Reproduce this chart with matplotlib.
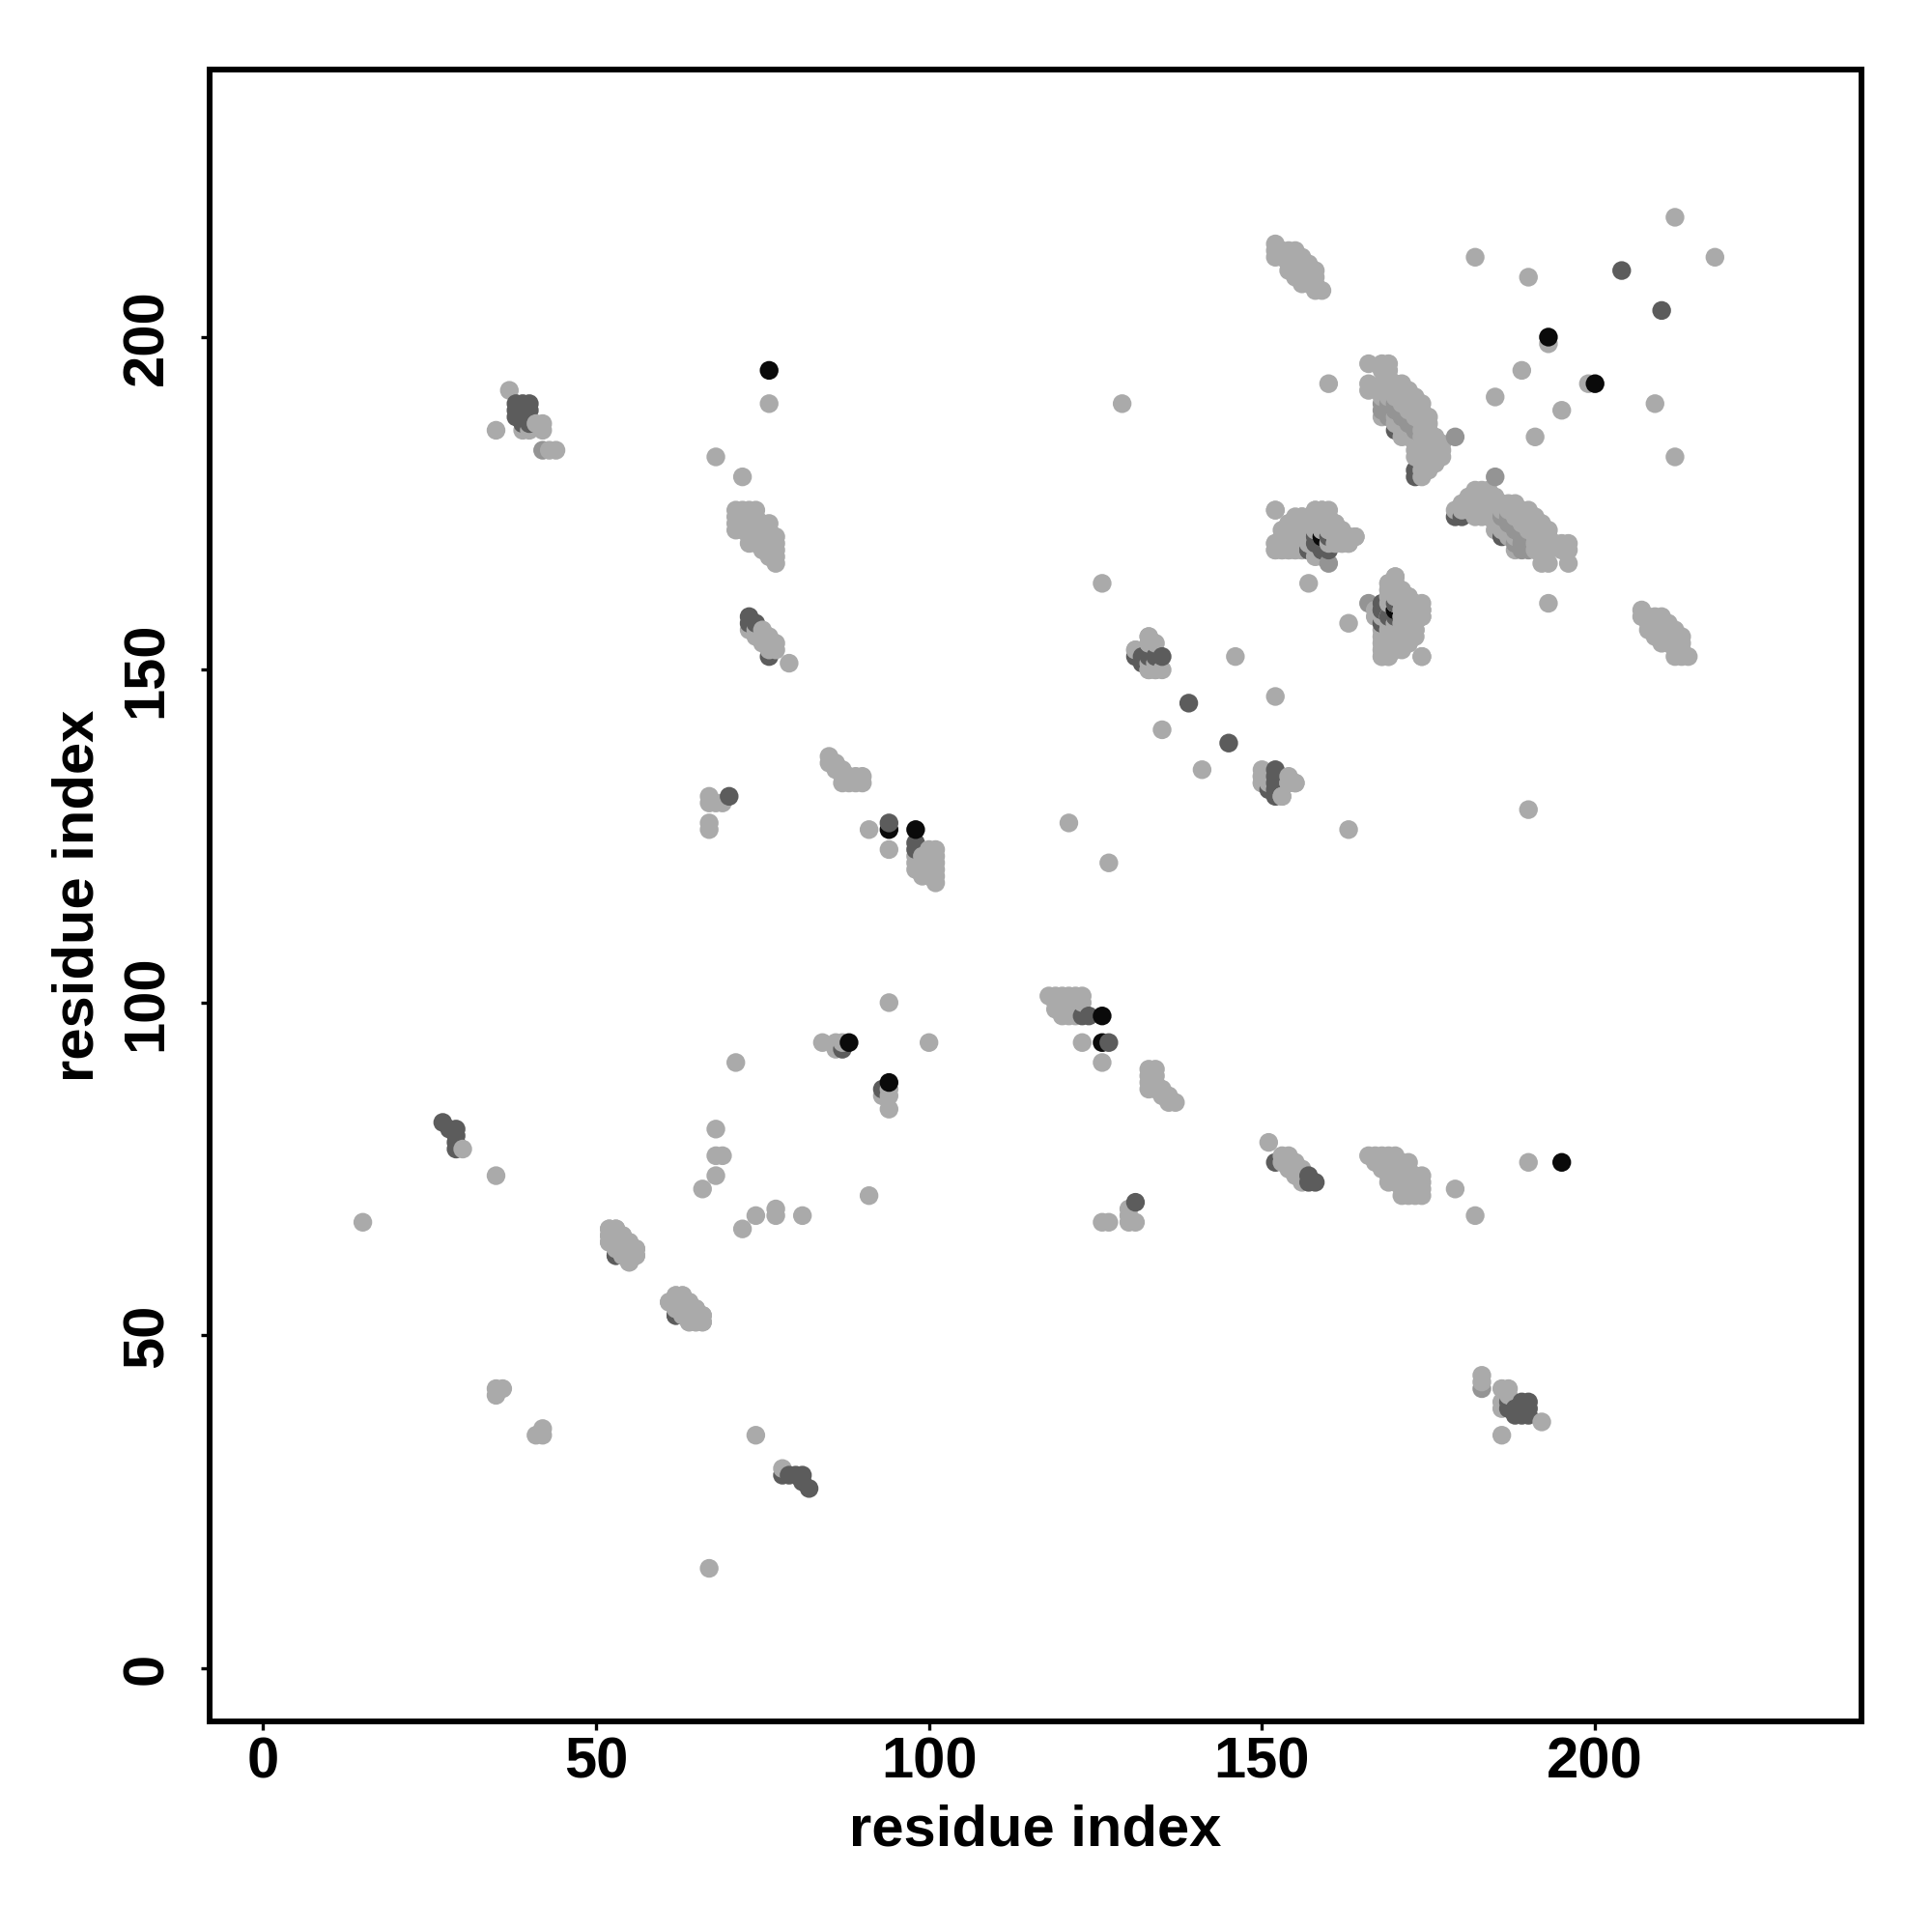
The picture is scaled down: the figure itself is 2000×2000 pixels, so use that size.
import matplotlib
matplotlib.use("Agg")
import matplotlib.pyplot as plt
import numpy as np

# contacts (i<j); mirrored in code since the map is symmetric
light = [(15,67),(30,78),(35,74),(35,186),(35,41),(35,42),(36,42),(37,192),(39,186),(40,186),(41,187),(42,187),(42,186),(43,183),(44,183),
 (52,66),(53,66),(52,65),(53,65),(54,65),(52,64),(53,64),(54,64),(55,64),(53,63),(54,63),(55,63),(56,63),(54,62),(55,62),(56,62),(55,61),
 (61,55),(62,55),(62,56),(63,56),(63,55),(64,55),(63,54),(64,54),(65,54),(64,53),(65,53),(66,53),(64,52),(65,52),(66,52),(62,54),
 (66,72),(68,74),(68,77),(69,77),(68,81),(67,126),(67,127),(67,130),(67,131),(68,130),(69,130),(68,182),(72,179),
 (71,174),(72,174),(73,174),(74,174),(71,173),(72,173),(73,173),(74,173),(71,172),(72,172),(73,172),(71,171),(72,171),(73,171),(74,171),(75,171),(76,172),(75,172),(76,171),(77,170),(76,170),(75,170),(74,170),(73,170),(73,169),(74,169),(75,169),(76,169),(77,169),(75,168),(76,168),(77,168),(77,167),(76,167),(77,166),
 (73,156),(74,156),(75,156),(74,155),(75,155),(76,155),(75,154),(76,154),(77,154),(76,153),(77,153),(79,151),(76,190),
 (85,137),(85,136),(86,136),(86,135),(87,135),(87,134),(88,134),(88,133),(87,133),(89,134),(89,133),(90,134),(90,133),
 (91,126),(71,91),(94,123),(84,94),(86,93),(86,94),(87,94),(94,100),
 (101,118),(101,119),(101,120),(101,121),(101,122),(101,123),(100,119),(100,120),(100,121),(100,122),(100,123),(99,119),(99,120),(99,121),(99,122),(98,120),(98,121),(98,122),
 (121,127),(129,190),(126,163),(131,153),(133,155),(133,154),(133,151),(134,151),(134,150),(135,150),(135,141),(146,152),(133,150),(134,154),(153,131),(154,133),(155,133),(150,133),(150,134),
 (160,193),(182,212),(190,209),(212,218),(189,195),(185,191),(193,199),
 (152,174),(152,169),(152,168),(153,168),(154,168),(155,168),(153,169),(154,169),(155,169),(156,169),(157,169),(158,169),(154,170),(155,170),(156,170),(157,170),(160,170),(161,170),(154,171),(155,171),(156,171),(157,171),(158,171),(159,171),(160,171),(161,171),(154,172),(155,172),(156,172),(157,172),(158,172),(159,172),(160,172),(161,172),(155,173),(156,173),(157,173),(158,173),(159,173),(160,173),(158,174),(159,174),(160,174),(156,168),(160,169),(161,169),(162,169),(163,169),(164,170),(163,170),(157,163),(159,167),(158,167),
 (168,158),(169,158),(170,160),(169,163),(170,164),(170,163),(169,162),(170,162),(171,162),(172,161),(171,161),(169,161),(170,161),
 (168,152),(169,152),(174,152),(168,153),(169,153),(170,153),(171,153),(168,154),(169,154),(170,154),(171,154),(172,154),(168,155),(169,155),(170,155),(171,155),(172,155),(168,156),(169,156),(170,156),(171,156),(172,156),(173,156),(169,157),(170,157),(171,157),(172,157),(173,157),(173,158),(174,158),(172,158),(171,158),(173,159),(174,159),(171,159),(172,159),(172,160),(171,160),
 (152,214),(152,213),(152,212),(153,213),(153,212),(154,213),(154,212),(154,211),(154,210),(155,213),(155,212),(155,211),(155,210),(155,209),(156,212),(156,211),(156,210),(156,209),(156,208),(157,211),(157,210),(157,209),(157,208),(158,210),(158,209),(158,208),(158,207),(159,207),
 (166,196),(168,196),(169,196),(168,195),(169,195),(169,194),(166,193),(166,192),(168,193),(168,192),(169,193),(169,192),(170,193),(170,192),(171,193),(171,192),(168,191),(169,191),(170,191),(171,191),(172,192),(172,191),(172,190),(171,190),(172,189),(173,191),(173,190),(173,189),(173,188),(174,190),(174,189),(174,188),(174,187),(175,188),(175,187),(175,186),(174,186),(175,185),(174,185),(175,184),(174,184),(175,183),(174,183),(176,185),(176,184),(176,183),(176,182),(175,182),(174,182),(173,182),(176,181),(175,181),(174,181),(177,184),(177,183),(177,182),(175,180),(174,180),(174,179),
 (171,187),(171,186),(171,185),(172,186),(172,185),(173,185),(173,184),(173,183),(170,187),(170,188),(168,188)]
medium = [(179,185),(160,166),(168,189),(168,190),(169,190),(169,189),(170,190),(170,189),(169,188),(171,189),(171,188),(172,188),(172,187),(173,187),(173,186),(42,183)]
dark = [(27,82),(28,81),(29,81),(29,80),(29,79),(29,78),(38,190),(39,190),(40,190),(38,189),(39,189),(40,189),(38,188),(39,188),(39,187),(40,187),
 (53,62),(62,53),(70,131),(73,158),(73,157),(74,157),(76,152),(94,127),(98,124),(98,123),(87,93),
 (131,152),(132,152),(133,152),(134,152),(135,152),(132,151),(139,145),(204,210),
 (158,170),(159,168),(157,168),(160,168),(168,159),(168,157),(170,186),(173,180),(173,179),(170,160),(158,169)]
black = [(76,195),(94,126),(98,126),(88,94),(193,200),(159,170),(170,159)]
gray_levels = [0.665, 0.58, 0.36, 0.04]
strength_groups = [light, medium, dark, black]

xs, ys, cs = [], [], []
for pts, g in zip(strength_groups, gray_levels):
    for a, b in pts:
        xs += [a, b]; ys += [b, a]; cs += [g, g]
xs, ys, cs = np.array(xs), np.array(ys), np.array(cs)
order = np.lexsort((ys, xs))

plt.rcParams['font.family'] = ['Liberation Sans', 'DejaVu Sans']
plt.rcParams['font.weight'] = 'bold'
fig = plt.figure(figsize=(20, 20), dpi=100)
ax = fig.add_axes([217/2000, 1-1782/2000, 1710/2000, 1710/2000])
ax.scatter(xs[order], ys[order], s=195, c=[str(v) for v in cs[order]], linewidths=0)
ax.set_xlim(-8, 240); ax.set_ylim(-8, 240.2)
ticks = [0, 50, 100, 150, 200]
ax.set_xticks(ticks); ax.set_yticks(ticks)
ax.tick_params(axis='x', length=6.5, width=2.4, labelsize=43, pad=5)
ax.tick_params(axis='y', length=6.5, width=2.4, labelsize=43, pad=20)
for t in ax.get_yticklabels():
    t.set_rotation(90); t.set_va('center')
for t in ax.get_xticklabels()+ax.get_yticklabels():
    t.set_fontweight('bold')
for s in ax.spines.values():
    s.set_linewidth(4.3)
ax.set_xlabel('residue index', fontsize=43, fontweight='bold', labelpad=10.5)
ax.set_ylabel('residue index', fontsize=43, fontweight='bold', labelpad=12)
fig.savefig('out.png', dpi=100)
